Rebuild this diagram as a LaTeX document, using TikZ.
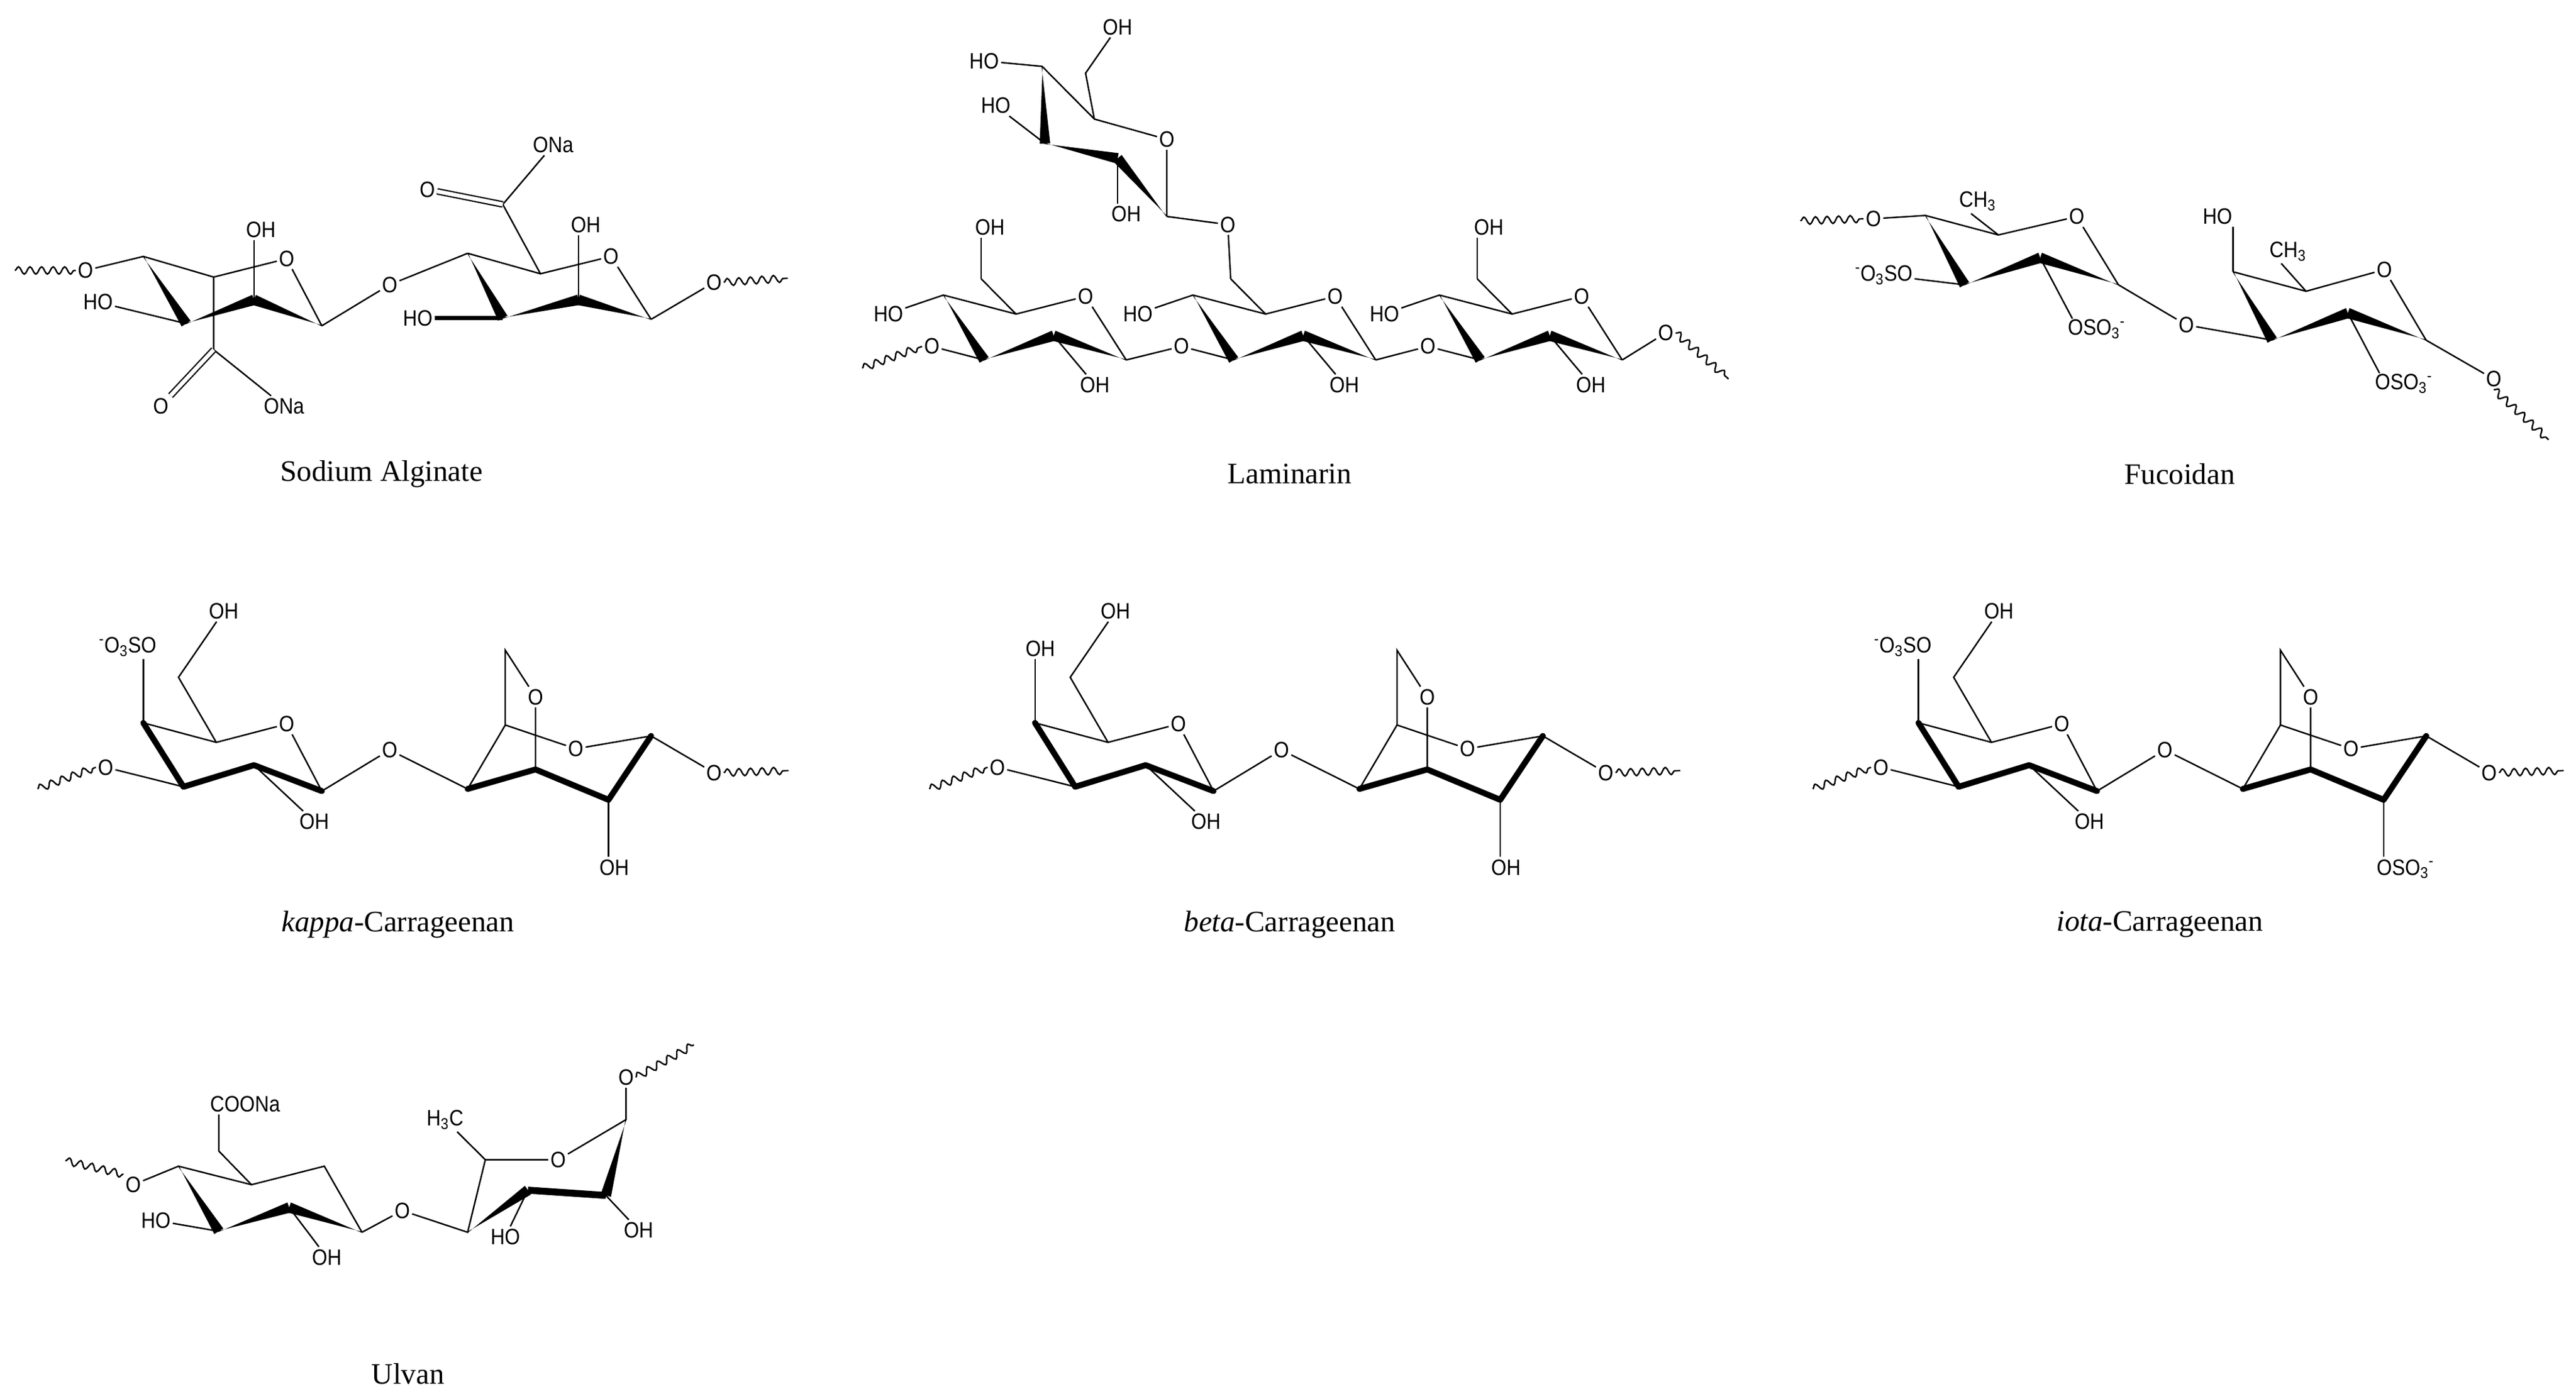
\documentclass[tikz,border=0pt]{standalone}
\usepackage{fontspec}
\setmainfont{Liberation Serif}
\newfontfamily\labf{Liberation Sans}
\usetikzlibrary{calc,decorations.pathmorphing}
\tikzset{
 bd/.style={line width=0.9pt},
 tk/.style={line width=3.6pt,line cap=round,line join=round},
 atm/.style={font=\labf\fontsize{13.5}{13.5}\selectfont,inner sep=1.3pt,xscale=0.88},
 ttl/.style={font=\fontsize{18}{20}\selectfont,inner sep=0pt},
 wv/.style={line width=0.9pt,decorate,decoration={snake,amplitude=2.2pt,segment length=7pt}},
 dbl/.style={double,double distance=2.4pt,line width=0.8pt}
}
\newcommand\wdg[2]{\fill ($(#1)!0.3pt!90:(#2)$) -- ($(#2)!3.2pt!90:(#1)$) -- ($(#2)!3.2pt!-90:(#1)$) -- ($(#1)!0.3pt!-90:(#2)$) -- cycle;}
\newcommand\subt[1]{\textsubscript{#1}}
\newcommand\supm{\textsuperscript{-}}
% carrageenan unit
\newcommand\carra[6]{%
\begin{scope}[xshift=#1]
\coordinate (#2c4) at (111.1,476.5); \coordinate (#2ct) at (86.8,437.8);
\coordinate (#2c5) at (131,449.6); \coordinate (#2c6) at (108.1,410.2);
\coordinate (#2c2) at (153.8,463.4); \coordinate (#2c1) at (194.9,479.1);
\coordinate (#2d4) at (283.2,477.8); \coordinate (#2d3) at (324.3,466);
\coordinate (#2d2) at (368.5,484.4); \coordinate (#2d1) at (394.3,445.7);
\coordinate (#2d5) at (306,439.1); \coordinate (#2d6) at (306,393.8);
\coordinate (#2w1) at (22.8,477.8); \coordinate (#2w2) at (477.5,466.7);
\node[atm] (#2Ol) at (64,464.7) {O};
\node[atm,#4] (#2U) {#3};
\node[atm] (#2OH6) at (135.5,370.2) {OH};
\node[atm] (#2Or) at (173.6,438.5) {O};
\node[atm] (#2OH2) at (190.3,497.5) {OH};
\node[atm] (#2Og) at (236,454.2) {O};
\node[atm] (#2Ob) at (324.3,422.1) {O};
\node[atm] (#2Or2) at (348.7,453.5) {O};
\node[atm,#6] (#2L) {#5};
\node[atm] (#2Oe) at (432.4,468) {O};
\draw[wv] (#2w1) -- (#2Ol.west);
\draw[bd] (#2Ol) -- (#2c4);
\draw[tk] (#2ct) -- (#2c4) -- (#2c2) -- (#2c1);
\draw[bd] (#2ct) -- (#2ct |- #2U.south);
\draw[bd] (#2ct) -- (#2c5) -- (#2Or) -- (#2c1);
\draw[bd] (#2c5) -- (#2c6) -- (#2OH6);
\draw[bd] (#2c2) -- (#2OH2);
\draw[bd] (#2c1) -- (#2Og) -- (#2d4);
\draw[tk] (#2d4) -- (#2d3) -- (#2d2) -- (#2d1);
\draw[bd] (#2d1) -- (#2Or2) -- (#2d5) -- (#2d4);
\draw[bd] (#2d5) -- (#2d6) -- (#2Ob) -- (#2d3);
\draw[bd] (#2d2) -- (#2d2 |- #2L.north);
\draw[bd] (#2d1) -- (#2Oe);
\draw[wv] (#2Oe.east) -- (#2w2);
\end{scope}}
\begin{document}
\begin{tikzpicture}[x=1pt,y=-1pt]
\fill[white] (0,0) rectangle (1560,844);
\useasboundingbox (0,0) rectangle (1560,844);
% ================= Sodium alginate
\coordinate (a4) at (86.8,155.3); \coordinate (a3) at (112.7,196);
\coordinate (a2) at (153.8,181.6); \coordinate (a1) at (194.9,197.3);
\coordinate (a5) at (129.4,167.8); \coordinate (ac) at (129.4,211.8);
\coordinate (aw) at (9,163.8);
\node[atm] (aOl) at (51.8,163.8) {O};
\node[atm] (aOr) at (173.6,156.7) {O};
\node[atm] (aHO) at (59.4,183) {HO};
\node[atm] (aO) at (97.4,245.9) {O};
\node[atm] (aONa) at (172,246) {ONa};
\node[atm] (aOH) at (158,139) {OH};
\node[atm] (aOg) at (236,172.4) {O};
\draw[wv] (aw) -- (aOl.west);
\draw[bd] (aOl) -- (a4) -- (a5) -- (aOr) -- (a1);
\wdg{a4}{a3}\wdg{a3}{a2}\wdg{a1}{a2}
\draw[bd] (aHO) -- (a3);
\draw[bd] (a5) -- (ac) -- (aONa);
\draw[dbl] (ac) -- (aO);
\draw[bd] (a2) -- (a2 |- aOH.south);
\coordinate (b4) at (283.2,153.4); \coordinate (b3) at (304.5,192.7);
\coordinate (b2) at (350.3,181.6); \coordinate (b1) at (394.3,193.4);
\coordinate (b5) at (327.3,165.8); \coordinate (bc) at (304.5,123.8);
\coordinate (bw) at (477,168.5);
\node[atm] (bOr) at (370,155.3) {O};
\node[atm] (bOH) at (354.7,136.3) {OH};
\node[atm] (bO) at (258.8,114.7) {O};
\node[atm] (bONa) at (335,87.8) {ONa};
\node[atm] (bHO) at (253,192.7) {HO};
\node[atm] (bOg) at (432.4,171) {O};
\draw[bd] (a1) -- (aOg) -- (b4);
\wdg{b4}{b3}\wdg{b3}{b2}\wdg{b1}{b2}
\draw[bd] (b4) -- (b5) -- (bOr) -- (b1);
\draw[bd] (b2) -- (b2 |- bOH.south);
\draw[bd] (b5) -- (bc) -- (bONa);
\draw[dbl] (bc) -- (bO);
\draw[line width=2.4pt] (bHO) -- (b3);
\draw[bd] (b1) -- (bOg);
\draw[wv] (bOg.east) -- (bw);
\node[ttl] (tA) at (231,287) {Sodium Alginate};
% ================= Laminarin
\coordinate (t6) at (657.4,44.3); \coordinate (t5) at (662.7,72.1);
\coordinate (t4) at (631.1,40.2); \coordinate (t3) at (632.8,86.9);
\coordinate (t2) at (676.8,95.9); \coordinate (t1) at (706.6,131.1);
\node[atm] (tOH) at (676.8,16.4) {OH};
\node[atm] (tHO1) at (596,36.9) {HO};
\node[atm] (tHO2) at (603,64) {HO};
\node[atm] (tO) at (706.6,84.4) {O};
\node[atm] (tOH2) at (682,129.5) {OH};
\node[atm] (tOl) at (743.5,136) {O};
\draw[bd] (tOH) -- (t6) -- (t5);
\draw[bd] (tHO1) -- (t4);
\draw[bd] (tHO2) -- (t3);
\wdg{t4}{t3}\wdg{t3}{t2}\wdg{t1}{t2}
\draw[bd] (t4) -- (t5) -- (tO) -- (t1);
\draw[bd] (t2) -- (t2 |- tOH2.north);
\draw[bd] (t1) -- (tOl);
\foreach \i/\o in {1/0,2/151.1,3/300.4}{
 \begin{scope}[xshift=\o]
 \coordinate (r\i c4) at (571.3,178.7); \coordinate (r\i c5) at (615.3,190.2);
 \coordinate (r\i c6) at (594.2,168.9); \coordinate (r\i c1) at (682,218);
 \coordinate (r\i c3) at (596,218); \coordinate (r\i c2) at (638.1,203.3);
 \node[atm] (r\i HO) at (538,190) {HO};
 \node[atm] (r\i Or) at (657.4,179.5) {O};
 \node[atm] (r\i OH2) at (663,233) {OH};
 \node[atm] (r\i Og) at (564.3,209.8) {O};
 \wdg{r\i c4}{r\i c3}\wdg{r\i c3}{r\i c2}\wdg{r\i c1}{r\i c2}
 \draw[bd] (r\i HO) -- (r\i c4) -- (r\i c5) -- (r\i Or) -- (r\i c1);
 \draw[bd] (r\i c5) -- (r\i c6);
 \draw[bd] (r\i c2) -- (r\i OH2);
 \draw[bd] (r\i Og) -- (r\i c3);
 \end{scope}}
\node[atm] (r1OH6) at (599.5,137.7) {OH};
\node[atm] (r3OH6) at (901.6,137.7) {OH};
\draw[bd] (r1c6) -- (r1c6 |- r1OH6.south);
\draw[bd] (r3c6) -- (r3c6 |- r3OH6.south);
\draw[bd] (r2c6) -- (tOl);
\draw[bd] (r1c1) -- (r2Og); \draw[bd] (r2c1) -- (r3Og);
\coordinate (lw1) at (522.2,223); \coordinate (lw2) at (1046.8,229.5);
\node[atm] (lOe) at (1008.8,201.6) {O};
\draw[wv] (lw1) -- (r1Og.west);
\draw[bd] (r3c1) -- (lOe);
\draw[wv] (lOe.east) -- (lw2);
\node[ttl] (tL) at (781,287) {Laminarin};
% ================= Fucoidan
\coordinate (f4) at (1166,130.5); \coordinate (f5) at (1210.2,142.3);
\coordinate (f1) at (1282.9,172.5); \coordinate (f3) at (1189.7,172.5);
\coordinate (f2) at (1235.5,156.1);
\coordinate (g4) at (1352.3,164.6); \coordinate (g3) at (1376,206);
\coordinate (g2) at (1421.8,189.6); \coordinate (g1) at (1469.2,206);
\coordinate (g5) at (1396.5,176.4);
\coordinate (fw1) at (1090.3,133.8); \coordinate (fw2) at (1543.4,266.3);
\node[atm] (fOl) at (1134.5,132.5) {O};
\node[atm] (fCa) at (1197.6,122) {CH\subt{3}};
\node[atm] (fOr) at (1257.6,131.2) {O};
\node[atm] (fSa) at (1140.8,166.6) {\supm O\subt{3}SO};
\node[atm,anchor=north west] (fSb) at (1251,192) {OSO\subt{3}\supm};
\node[atm] (fOg) at (1324,196.8) {O};
\node[atm] (fHO) at (1342.9,131.2) {HO};
\node[atm] (fCb) at (1385.5,152.2) {CH\subt{3}};
\node[atm] (fOr2) at (1443.9,163.3) {O};
\node[atm,anchor=north west] (fSc) at (1437,225) {OSO\subt{3}\supm};
\node[atm] (fOe) at (1510.2,229.6) {O};
\draw[wv] (fw1) -- (fOl.west);
\draw[bd] (fOl) -- (f4) -- (f5) -- (fOr) -- (f1);
\draw[bd] ($(fCa.south)+(-4,0)$) -- (f5);
\wdg{f4}{f3}\wdg{f3}{f2}\wdg{f1}{f2}
\draw[bd] (fSa) -- (f3);
\draw[bd] (f2) -- ($(fSb.north west)+(4,1)$);
\draw[bd] (f1) -- (fOg) -- (g3);
\wdg{g4}{g3}\wdg{g3}{g2}\wdg{g1}{g2}
\draw[bd] (g4) -- (g5) -- (fOr2) -- (g1);
\draw[bd] ($(fCb.south)+(-4,0)$) -- (g5);
\draw[bd] (g4) -- (g4 |- fHO.south);
\draw[bd] (g2) -- ($(fSc.north west)+(4,1)$);
\draw[bd] (g1) -- (fOe);
\draw[wv] (fOe.south) -- (fw2);
\node[ttl] (tF) at (1320,287) {Fucoidan};
% ================= Carrageenans
\carra{0}{k}{\supm O\subt{3}SO}{anchor=south east,at={(96,399)}}{OH}{anchor=north,at={(372,519)}}
\carra{540}{e}{OH}{anchor=south,at={(90,399)}}{OH}{anchor=north,at={(372,519)}}
\carra{1075}{i}{\supm O\subt{3}SO}{anchor=south east,at={(96,399)}}{OSO\subt{3}\supm}{anchor=north west,at={(363,519)}}
\node[ttl] (tK) at (241,560) {\textit{kappa}-Carrageenan};
\node[ttl] (tB) at (781,560) {\textit{beta}-Carrageenan};
\node[ttl] (tI) at (1308,560) {\textit{iota}-Carrageenan};
% ================= Ulvan
\coordinate (u4) at (108.1,706.3); \coordinate (u3) at (132.5,745.7);
\coordinate (u5) at (152.3,717.5); \coordinate (u6) at (132.5,697.1);
\coordinate (ua) at (196.4,706.3); \coordinate (u1) at (219.2,746.3);
\coordinate (u2) at (175.1,731.3);
\coordinate (v4) at (283.2,746.3); \coordinate (v5) at (293.9,702.4);
\coordinate (v1) at (379.1,678.1); \coordinate (v3) at (319.7,720.8);
\coordinate (v2) at (366.9,724);
\coordinate (uw1) at (39.6,703); \coordinate (uw2) at (420.2,632.8);
\node[atm] (uOl) at (80.7,717.5) {O};
\node[atm] (uHO) at (94.4,739.1) {HO};
\node[atm,anchor=south west] (uCO) at (126,675) {COONa};
\node[atm] (uOH2) at (197.9,761.4) {OH};
\node[atm] (uOg) at (243.6,733.2) {O};
\node[atm] (uH3C) at (269.5,678.1) {H\subt{3}C};
\node[atm] (uOr) at (338,702.4) {O};
\node[atm] (uOt) at (379.1,652.5) {O};
\node[atm] (uHO3) at (306,749) {HO};
\node[atm] (uOH4) at (386.7,745) {OH};
\draw[wv] (uw1) -- (uOl.north west);
\draw[bd] (uOl) -- (u4) -- (u5) -- (ua) -- (u1);
\wdg{u4}{u3}\wdg{u3}{u2}\wdg{u1}{u2}
\draw[bd] (uHO) -- (u3);
\draw[bd] (u5) -- (u6) -- (u6 |- uCO.south);
\draw[bd] (u2) -- (uOH2);
\draw[bd] (u1) -- (uOg) -- (v4) -- (v5) -- (uOr) -- (v1) -- (uOt);
\draw[bd] (v5) -- (uH3C);
\draw[wv] (uOt.east) -- (uw2);
\wdg{v4}{v3}\wdg{v1}{v2}
\draw[line width=4.2pt] (v3) -- (v2);
\draw[bd] (v3) -- (uHO3);
\draw[bd] (v2) -- (uOH4);
\node[ttl] (tU) at (247,832) {Ulvan};
\end{tikzpicture}
\end{document}
